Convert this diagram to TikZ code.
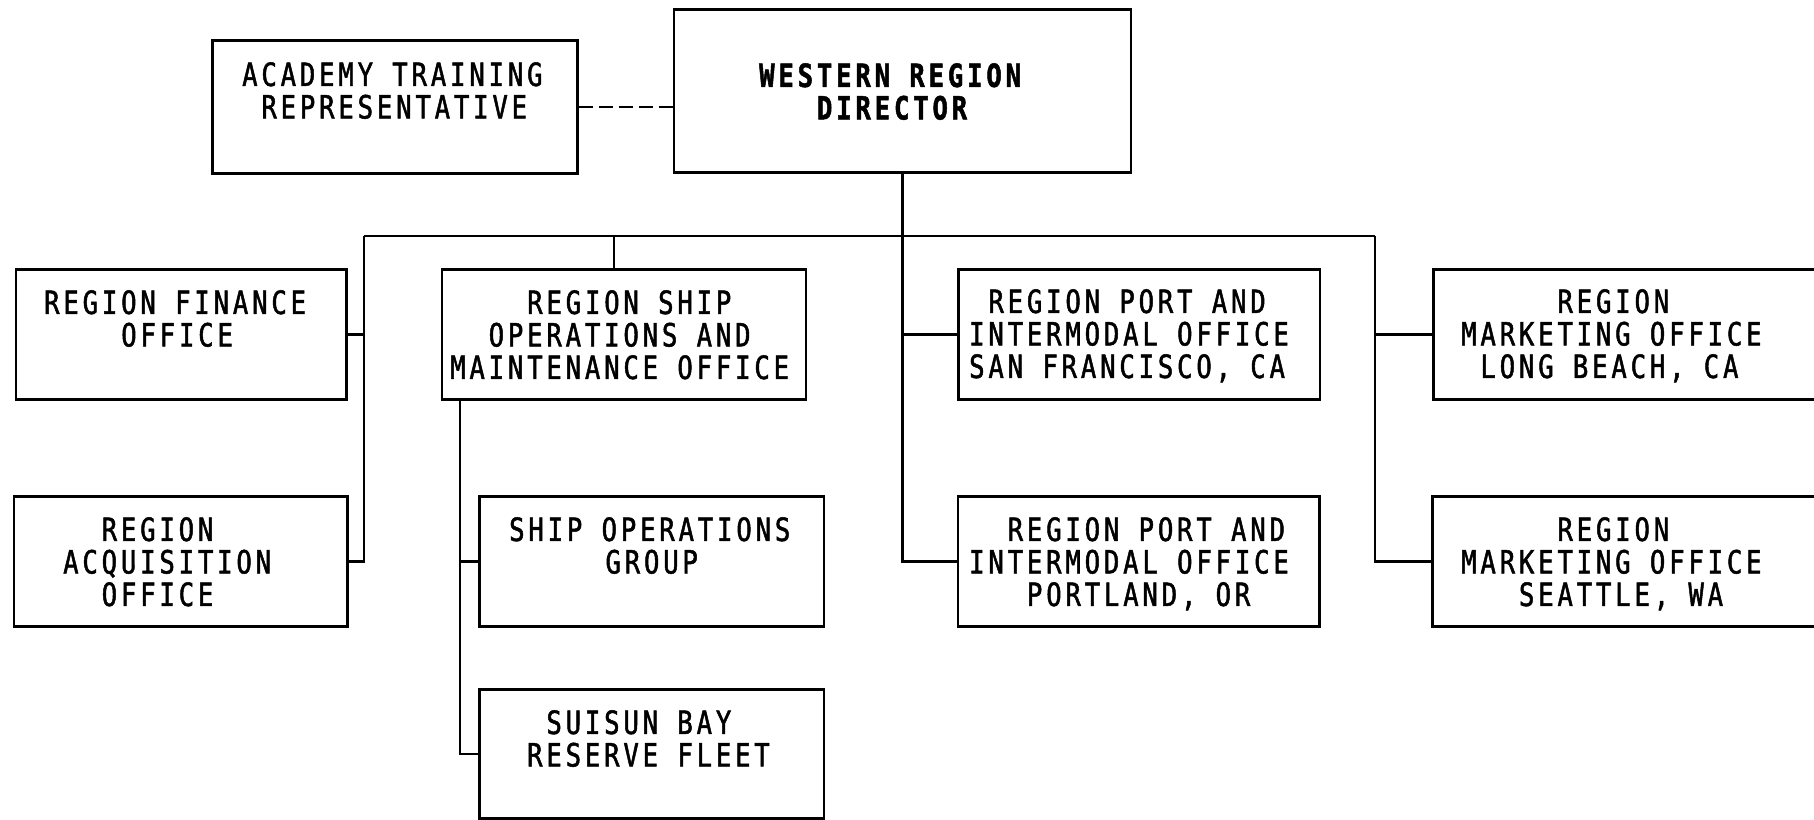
\documentclass[tikz,border=0pt]{standalone}
\usepackage{fontspec}
\newfontfamily\chartfont[FakeStretch=0.8, LetterSpace=12, FakeBold=1.5]{DejaVu Sans Mono}
\newcommand\pd[1]{\hspace*{#1\dimexpr0.602em\relax}}
\tikzset{
  box/.style={draw, line width=2.6pt, rectangle, inner sep=0pt, anchor=north west},
  lbl/.style={inner sep=0pt, anchor=north west, align=left,
    font=\chartfont\fontsize{32}{32.5}\selectfont},
  link/.style={line width=2.4pt},
}
\begin{document}
\begin{tikzpicture}[x=1pt,y=-1pt]
\useasboundingbox (0,0) rectangle (1814,819);
\fill[white] (0,0) rectangle (1814,819);
\clip (0,0) rectangle (1814,819);
% boxes
\node[box, minimum width=365pt, minimum height=133pt] (acad) at (211,39) {};
\node[box, minimum width=457pt, minimum height=163pt] (dir) at (672.5,8) {};
\node[box, minimum width=330.5pt, minimum height=130pt] (fin) at (14.5,268) {};
\node[box, minimum width=364pt, minimum height=130pt] (ship) at (440.5,268) {};
\node[box, minimum width=361.5pt, minimum height=130pt] (sf) at (957,268) {};
\node[box, minimum width=420pt, minimum height=130pt] (lb) at (1432,268) {};
\node[box, minimum width=333.5pt, minimum height=130pt] (acq) at (12.5,495) {};
\node[box, minimum width=344.5pt, minimum height=130pt] (sog) at (478,495) {};
\node[box, minimum width=361.5pt, minimum height=130pt] (pdx) at (956.5,495) {};
\node[box, minimum width=420pt, minimum height=130pt] (sea) at (1431,495) {};
\node[box, minimum width=344.5pt, minimum height=129pt] (sui) at (478,688) {};
% texts
\node[lbl] (acadT) at (242,62) {ACADEMY TRAINING\\\pd{1}REPRESENTATIVE};
\node[lbl, font=\chartfont\bfseries\fontsize{32}{32.5}\selectfont] (dirT) at (759,63) {WESTERN REGION\\\pd{3}DIRECTOR};
\node[lbl] (finT) at (44,290) {REGION FINANCE\\\pd{4}OFFICE};
\node[lbl] (shipT) at (450,290) {\pd{4}REGION SHIP\\\pd{2}OPERATIONS AND\\MAINTENANCE OFFICE};
\node[lbl] (sfT) at (969,289) {\pd{1}REGION PORT AND\\INTERMODAL OFFICE\\SAN FRANCISCO, CA};
\node[lbl] (lbT) at (1461,289) {\pd{5}REGION\\MARKETING OFFICE\\\pd{1}LONG BEACH, CA};
\node[lbl] (acqT) at (63,517) {\pd{2}REGION\\ACQUISITION\\\pd{2}OFFICE};
\node[lbl] (sogT) at (509,517) {SHIP OPERATIONS\\\pd{5}GROUP};
\node[lbl] (pdxT) at (969,517) {\pd{2}REGION PORT AND\\INTERMODAL OFFICE\\\pd{3}PORTLAND, OR};
\node[lbl] (seaT) at (1461,517) {\pd{5}REGION\\MARKETING OFFICE\\\pd{3}SEATTLE, WA};
\node[lbl] (suiT) at (527,710) {\pd{1}SUISUN BAY\\RESERVE FLEET};
% connectors
\coordinate (busL) at (364,236);
\coordinate (busR) at (1375,236);
\coordinate (shipTap) at (614,236);
\coordinate (shipDrop) at (460,398);
\draw[link, dash pattern=on 14pt off 6pt] (acad.east) -- (acad.east -| dir.west);
\draw[link] (dir.south) -- (dir.south |- pdx.west) -- (pdx.west);
\draw[link] (busL) -- (busR);
\draw[link] (dir.south |- sf.west) -- (sf.west);
\draw[link] (busL) |- (acq.east);
\draw[link] (fin.east) -- (fin.east -| busL);
\draw[link] (busR) |- (sea.west);
\draw[link] (lb.west) -- (lb.west -| busR);
\draw[link] (shipTap) -- (shipTap |- ship.north);
\draw[link] (shipDrop) |- (sui.west);
\draw[link] (sog.west -| shipDrop) -- (sog.west);
\end{tikzpicture}
\end{document}
